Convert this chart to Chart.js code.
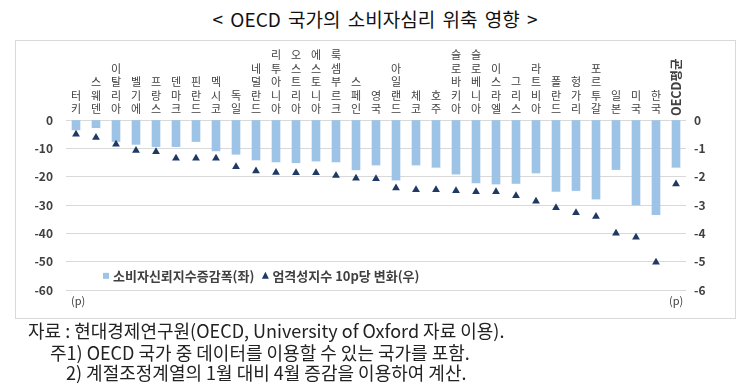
<!DOCTYPE html>
<html>
<head>
<meta charset="utf-8">
<script src="https://cdn.jsdelivr.net/npm/chart.js@4.4.1/dist/chart.umd.min.js"></script>
<style>
  body { margin: 0; background: #fff; width: 750px; height: 386px; position: relative; overflow: hidden; font-family: "Noto Sans CJK KR", sans-serif; }
  #title { position: absolute; left: 0; width: 750px; top: 5px; text-align: center; font-size: 19px; color: #111; word-spacing: 3px; }
  #box { position: absolute; left: 15px; top: 40px; width: 719px; height: 277px; border: 1px solid #d9d9d9; }
  .note { position: absolute; font-size: 18px; color: #222; white-space: nowrap; line-height: 22px; }
</style>
</head>
<body>
<div id="title">&lt; OECD 국가의 소비자심리 위축 영향 &gt;</div>
<div id="box"><canvas id="myChart" width="719" height="277"></canvas></div>
<div class="note" style="left:28px; top:319px;">자료 : 현대경제연구원(OECD, University of Oxford 자료 이용).</div>
<div class="note" style="left:50px; top:341px;">주1) OECD 국가 중 데이터를 이용할 수 있는 국가를 포함.</div>
<div class="note" style="left:66px; top:361px;">2) 계절조정계열의 1월 대비 4월 증감을 이용하여 계산.</div>
<script>
// categories
const countries = ['터키', '스웨덴', '이탈리아', '벨기에', '프랑스', '덴마크', '핀란드', '멕시코', '독일', '네덜란드',
  '리투아니아', '오스트리아', '에스토니아', '룩셈부르크', '스페인', '영국', '아일랜드', '체코', '호주', '슬로바키아',
  '슬로베니아', '이스라엘', '그리스', '라트비아', '폴란드', '헝가리', '포르투갈', '일본', '미국', '한국', 'OECD평균']

// 소비자신뢰지수 증감폭 (left axis)
const confidence = [-3.5, -2.7, -7.6, -8.6, -9.4, -9.4, -7.6, -10.9, -12.1, -14.1,
  -14.8, -15.1, -14.5, -14.8, -17.6, -15.9, -21.2, -15.9, -16.7, -19.1,
  -22.2, -22.6, -22.4, -18.7, -25.2, -24.9, -27.9, -17.5, -30.0, -33.4, -16.7]

// 엄격성지수 10p당 변화 (right axis)
const stringency = [-0.5, -0.62, -0.86, -1.08, -1.12, -1.35, -1.35, -1.35, -1.65, -1.8,
  -1.85, -1.86, -1.86, -1.96, -2.06, -2.07, -2.4, -2.46, -2.46, -2.5,
  -2.53, -2.53, -2.67, -2.87, -3.1, -3.27, -3.41, -4.0, -4.14, -5.02, -2.26]

const leftTicks = [0, -10, -20, -30, -40, -50, -60]
const rightTicks = [0, -1, -2, -3, -4, -5, -6]

const seriesNames = ['소비자신뢰지수증감폭(좌)', '엄격성지수 10p당 변화(우)']
const barColor = '#9dc3e6'
const triColor = '#1f3864'
const textColor = '#404040'
const krFont = '"Noto Sans CJK KR", sans-serif'

// draws the vertical country names, the legend and the (p) units
const extras = {
  id: 'extras',
  afterDraw(chart) {
    const ctx = chart.ctx
    const xs = chart.scales.x
    const area = chart.chartArea
    ctx.save()
    ctx.fillStyle = textColor
    ctx.textAlign = 'center'
    ctx.textBaseline = 'middle'
    ctx.font = '11px ' + krFont
    const lh = 13.5
    for (let i = 0; i < countries.length; i++) {
      const x = xs.getPixelForValue(i)
      const name = countries[i]
      if (name.startsWith('OECD')) {
        ctx.save()
        ctx.translate(x, area.top - 4)
        ctx.rotate(-Math.PI / 2)
        ctx.textAlign = 'left'
        ctx.font = 'bold 12.5px ' + krFont
        ctx.fillText(name, 0, 0)
        ctx.restore()
        continue
      }
      const chars = Array.from(name)
      for (let j = 0; j < chars.length; j++) {
        const y = area.top - 11 - (chars.length - 1 - j) * lh
        ctx.fillText(chars[j], x, y)
      }
    }

    // legend
    const ly = chart.scales.y.getPixelForValue(-55)
    ctx.font = 'bold 13px ' + krFont
    ctx.textAlign = 'left'
    ctx.fillStyle = barColor
    ctx.fillRect(87, ly - 3, 6, 6)
    ctx.fillStyle = textColor
    ctx.fillText(seriesNames[0], 97, ly)
    const w0 = ctx.measureText(seriesNames[0]).width
    const tx = 97 + w0 + 11
    ctx.fillStyle = triColor
    ctx.beginPath()
    ctx.moveTo(tx, ly - 4)
    ctx.lineTo(tx + 3.5, ly + 3)
    ctx.lineTo(tx - 3.5, ly + 3)
    ctx.closePath()
    ctx.fill()
    ctx.fillStyle = textColor
    ctx.fillText(seriesNames[1], tx + 7, ly)

    // units
    ctx.font = '11px ' + krFont
    ctx.fillText('(p)', 55, area.bottom + 11)
    ctx.fillText('(p)', 653, area.bottom + 11)
    ctx.restore()
  }
}

const data = {
  labels: countries,
  datasets: [{
    type: 'line',
    label: seriesNames[1],
    data: stringency,
    yAxisID: 'y1',
    showLine: false,
    pointStyle: 'triangle',
    pointRadius: 4.5,
    backgroundColor: triColor,
    borderColor: triColor,
    borderWidth: 0
  }, {
    type: 'bar',
    label: seriesNames[0],
    data: confidence,
    yAxisID: 'y',
    backgroundColor: barColor,
    barThickness: 8
  }]
}

const config = {
  data: data,
  options: {
    responsive: false,
    animation: false,
    layout: { padding: { top: 79, bottom: 28, left: 0, right: 0 } },
    plugins: { legend: { display: false }, tooltip: { enabled: false } },
    scales: {
      x: { display: false, offset: true },
      y: {
        position: 'left',
        min: -60, max: 0,
        afterBuildTicks: (s) => { s.ticks = leftTicks.map(v => ({ value: v })) },
        afterFit: (s) => { s.width = 50 },
        grid: { color: '#d9d9d9', drawTicks: false },
        border: { display: false },
        ticks: { color: textColor, padding: 13, font: { family: krFont, size: 12, weight: 'bold' } }
      },
      y1: {
        position: 'right',
        min: -6, max: 0,
        afterBuildTicks: (s) => { s.ticks = rightTicks.map(v => ({ value: v })) },
        afterFit: (s) => { s.width = 49 },
        grid: { display: false, drawTicks: false },
        border: { display: false },
        ticks: { color: textColor, padding: 8, font: { family: krFont, size: 12, weight: 'bold' } }
      }
    }
  },
  plugins: [extras]
}

const myChart = new Chart(document.getElementById('myChart'), config)
</script>
</body>
</html>
